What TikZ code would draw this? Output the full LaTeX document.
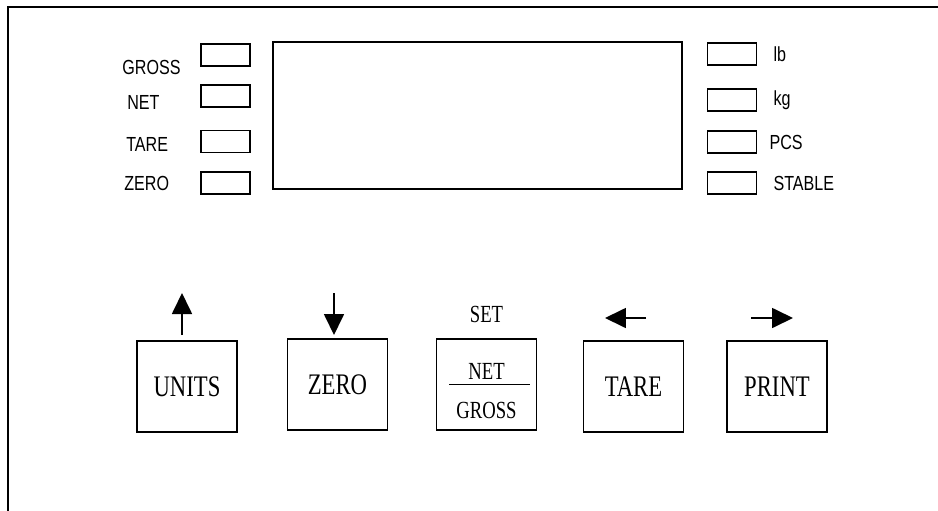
\documentclass[tikz,border=0pt]{standalone}
\usepackage{fontspec}
\usepackage{tikz}
\usetikzlibrary{positioning, arrows.meta}
\newfontfamily\ledfont[FakeStretch=0.79]{Liberation Sans}
\newfontfamily\keyfont[FakeStretch=0.76]{Liberation Serif}

\begin{document}
\begin{tikzpicture}[
  x=0.02cm, y=-0.02cm,
  ledbox/.style={draw, line width=0.85pt, minimum width=0.98cm,
              minimum height=0.44cm, inner sep=0pt},
  ledlabel/.style={inner sep=0pt, font=\ledfont\fontsize{11.6}{13}\selectfont},
  keybox/.style={draw, line width=0.85pt, minimum width=2cm,
              minimum height=1.82cm, inner sep=0pt,
              font=\keyfont\fontsize{17}{19}\selectfont},
  keytext/.style={inner sep=0pt, font=\keyfont\fontsize{14}{16}\selectfont},
  keyarrow/.style={-{Triangle[length=0.42cm, width=0.4cm]}, line width=1pt}
]
  \useasboundingbox (0,0) rectangle (938,511);

  % Panel outline
  \draw[line width=1.1pt] (8,511) -- (8,7) -- (938,7);

  % Display window
  \node[draw, line width=1pt, minimum width=8.18cm, minimum height=2.94cm,
    inner sep=0pt] (display) at (477.5,115.5) {};

  % Left indicators
  \node[ledbox] (grossled) at (225.5,55) {};
  \node[ledbox] (netled) at (225.5,96) {};
  \node[ledbox] (tareled) at (225.5,141.5) {};
  \node[ledbox] (zeroled) at (225.5,183) {};
  \node[ledlabel, anchor=west] (grosslbl) at (122,67) {GROSS};
  \node[ledlabel, anchor=west] (netlbl) at (127,102) {NET};
  \node[ledlabel, anchor=west] (tarelbl) at (126,144) {TARE};
  \node[ledlabel, anchor=west] (zerolbl) at (124,183) {ZERO};

  % Right indicators
  \node[ledbox] (lbled) at (732,54) {};
  \node[ledbox] (kgled) at (732,100) {};
  \node[ledbox] (pcsled) at (732,142) {};
  \node[ledbox] (stableled) at (732,183) {};
  \node[ledlabel, right=0.32cm of lbled] (lblbl) {lb};
  \node[ledlabel, right=0.32cm of kgled] (kglbl) {kg};
  \node[ledlabel, right=0.24cm of pcsled] (pcslbl) {PCS};
  \node[ledlabel, right=0.32cm of stableled] (stablelbl) {STABLE};

  % Keys
  \node[keybox] (unitskey) at (187,386.5) {UNITS};
  \node[keybox] (zerokey) at (337.5,384.5) {ZERO};
  \node[keybox] (setkey) at (486.5,384.5) {};
  \node[keybox] (tarekey) at (633.5,386.5) {TARE};
  \node[keybox] (printkey) at (777,386.5) {PRINT};

  % NET/GROSS key face
  \draw[line width=1pt] ([xshift=-0.75cm]setkey.center) -- ([xshift=0.87cm]setkey.center);
  \node[keytext, above=0.1cm of setkey.center] (setnet) {NET};
  \node[keytext, below=0.34cm of setkey.center] (setgross) {GROSS};
  \node[keytext, above=0.3cm of setkey] (setlbl) {SET};

  % Key arrows
  \coordinate (upfoot) at (182,335);
  \coordinate (uptip) at (182,293);
  \coordinate (downfoot) at (334,293);
  \coordinate (downtip) at (334,335);
  \coordinate (leftfoot) at (646,318);
  \coordinate (lefttip) at (605,318);
  \coordinate (rightfoot) at (751,318);
  \coordinate (righttip) at (793,318);
  \draw[keyarrow] (upfoot) -- (uptip);
  \draw[keyarrow] (downfoot) -- (downtip);
  \draw[keyarrow] (leftfoot) -- (lefttip);
  \draw[keyarrow] (rightfoot) -- (righttip);
\end{tikzpicture}
\end{document}
